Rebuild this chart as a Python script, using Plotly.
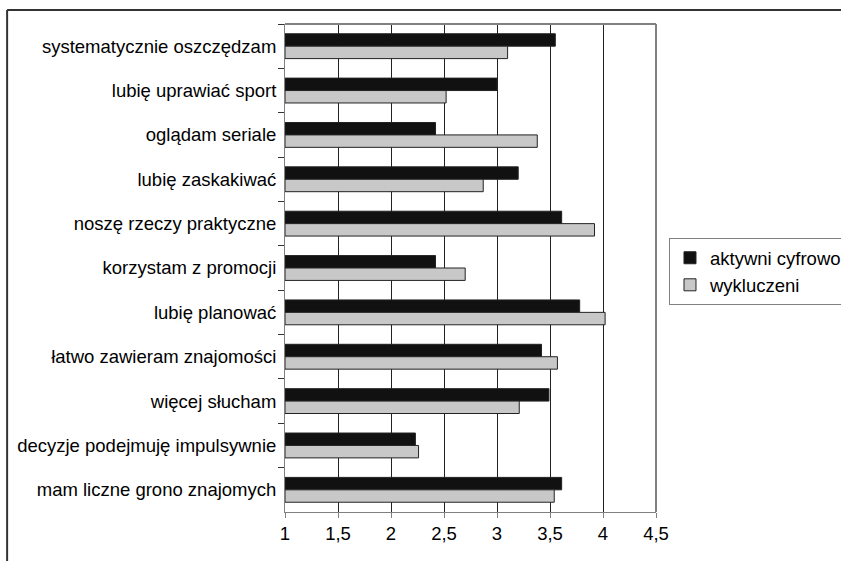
import plotly.graph_objects as go

categories = [
    "systematycznie oszczędzam",
    "lubię uprawiać sport",
    "oglądam seriale",
    "lubię zaskakiwać",
    "noszę rzeczy praktyczne",
    "korzystam z promocji",
    "lubię planować",
    "łatwo zawieram znajomości",
    "więcej słucham",
    "decyzje podejmuję impulsywnie",
    "mam liczne grono znajomych",
]
aktywni_cyfrowo = [3.55, 3.00, 2.42, 3.20, 3.61, 2.42, 3.78, 3.42, 3.49, 2.23, 3.61]
wykluczeni = [3.10, 2.52, 3.38, 2.87, 3.92, 2.70, 4.02, 3.57, 3.21, 2.26, 3.54]
x_ticks = [1, 1.5, 2, 2.5, 3, 3.5, 4, 4.5]
x_tick_labels = ["1", "1,5", "2", "2,5", "3", "3,5", "4", "4,5"]
AXIS_MIN = 1

FONT = "Arial, 'Liberation Sans', sans-serif"

fig = go.Figure()
fig.add_trace(go.Bar(
    y=categories, x=[v - AXIS_MIN for v in aktywni_cyfrowo], base=AXIS_MIN,
    orientation="h", name="aktywni cyfrowo", legendgroup="a",
    marker=dict(color="#111111", line=dict(color="#222222", width=1)),
))
fig.add_trace(go.Bar(
    y=categories, x=[v - AXIS_MIN for v in wykluczeni], base=AXIS_MIN,
    orientation="h", name="wykluczeni", legendgroup="b",
    marker=dict(color="#c8c8c8", line=dict(color="#222222", width=1)),
))

fig.update_layout(
    width=841, height=561,
    margin=dict(l=285, r=185, t=24, b=49, autoexpand=False),
    paper_bgcolor="white", plot_bgcolor="white",
    font=dict(family=FONT, size=18.5, color="#000000"),
    barmode="group", bargap=0.44, bargroupgap=0,
    showlegend=True,
    legend=dict(
        x=1.035, y=0.561, xanchor="left", yanchor="top",
        bordercolor="#808080", borderwidth=1, bgcolor="white",
        font=dict(family=FONT, size=18.5, color="#000000"),
        traceorder="grouped", tracegroupgap=0,
        itemwidth=30,
    ),
    shapes=[
        dict(type="line", xref="paper", yref="paper", x0=-0.749, x1=1.6, y0=1.0287, y1=1.0287,
             line=dict(color="#333333", width=2)),
        dict(type="line", xref="paper", yref="paper", x0=-0.749, x1=-0.749, y0=1.0287, y1=-0.2,
             line=dict(color="#333333", width=2)),
        dict(type="line", xref="paper", yref="paper", x0=0, x1=1, y0=1, y1=1,
             line=dict(color="#808080", width=2)),
        dict(type="line", xref="paper", yref="paper", x0=1, x1=1, y0=0, y1=1,
             line=dict(color="#808080", width=2)),
    ],
)
fig.update_xaxes(
    range=[1, 4.5], tickvals=x_ticks, ticktext=x_tick_labels,
    showgrid=True, gridcolor="#222222", gridwidth=1,
    showline=True, linecolor="#808080", linewidth=1,
    ticks="outside", ticklen=5, tickcolor="#808080",
    zeroline=False, tickfont=dict(size=18.5),
)
fig.update_yaxes(
    autorange="reversed", type="category",
    showgrid=False, showline=True, linecolor="#808080", linewidth=1,
    ticks="outside", ticklen=6, tickcolor="#333333", tickson="boundaries",
    ticklabelstandoff=4,
    tickfont=dict(size=18.5),
)
fig.write_html("out.html")
